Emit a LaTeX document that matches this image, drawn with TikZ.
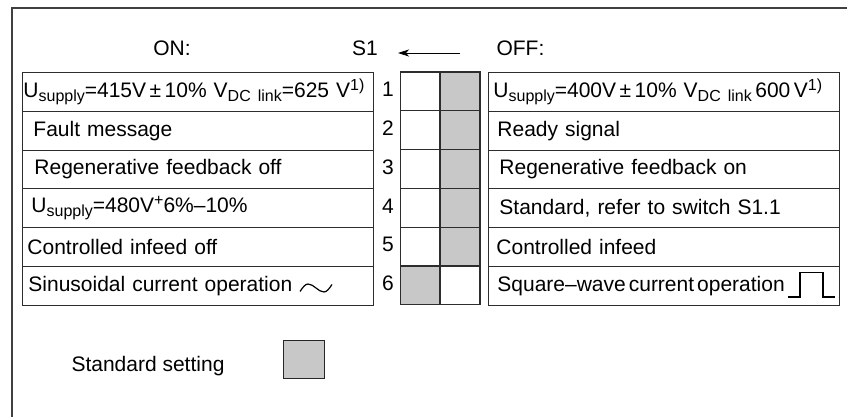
\documentclass[tikz,border=0pt]{standalone}
\usepackage{fontspec}
\setmainfont{Liberation Sans}
\usepackage{tikz}
\usetikzlibrary{arrows,arrows.meta}
\usetikzlibrary{positioning}
\definecolor{swgray}{RGB}{200,200,200}
\definecolor{linegray}{RGB}{45,45,45}

% sub- and superscripts as set in the reference
\newcommand{\lowtxt}[1]{\raisebox{-4.5pt}{\fontsize{16}{16}\selectfont #1}}
\newcommand{\hightxt}[1]{\raisebox{7pt}{\fontsize{16}{16}\selectfont #1}}

\tikzset{
	rowbox/.style={draw=linegray,line width=0.9pt,anchor=north west,minimum height=38.8pt,
		inner xsep=0pt,inner ysep=0pt,text width=351pt,align=left},
	swcell/.style={draw=linegray,line width=1.1pt,minimum height=38.8pt,inner sep=0pt}
}

\begin{document}
\begin{tikzpicture}
	[x=1pt,y=-1pt,every node/.style={font=\fontsize{21}{25}\selectfont}]
	\useasboundingbox (0,0) rectangle (847,417);
	% frame
	\draw[line width=1.4pt,black!75] (12,417) -- (12,8) -- (847,8);

	% header
	\node (on) at (172,48) {ON:};
	\node (s1) at (365,48) {S1};
	\node[anchor=west] (off) at (493,48) {OFF:};
	\coordinate (arrtail) at (460,53);
	\coordinate (arrhead) at (398,53);
	\draw[-{Stealth[length=11pt,width=7pt,inset=3pt]},line width=0.8pt] (arrtail) -- (arrhead);

	% left column: ON
	\foreach \i/\ind/\txt in {
		1/1/{U\lowtxt{supply}=415V\,±\,10\%~V\lowtxt{DC link}=625~V\hightxt{1)}},
		2/11/{Fault message},
		3/12/{Regenerative feedback off},
		4/9/{U\lowtxt{supply}=480V\hightxt{+}6\%–10\%},
		5/5/{Controlled infeed off},
		6/6/{Sinusoidal current operation}}
	\node[rowbox] (on\i) at (22,{72+(\i-1)*38.8}) {\hspace*{\ind pt}\txt};

	% right column: OFF
	\foreach \i/\ind/\txt in {
		1/5/{U\lowtxt{supply}=400V\,±\,10\%~V\lowtxt{DC link}\,600\,V\hightxt{1)}},
		2/9/{Ready signal},
		3/11/{Regenerative feedback on},
		4/11/{Standard, refer to switch S1.1},
		5/8/{Controlled infeed},
		6/9/{Square–wave\hspace{3pt}current\hspace{3pt}operation}}
	\node[rowbox] (off\i) at (488,{72+(\i-1)*38.8}) {\hspace*{\ind pt}\txt};

	% switch S1
	\foreach \i/\lf/\rf in {1/white/swgray, 2/white/swgray, 3/white/swgray,
		4/white/swgray, 5/white/swgray, 6/swgray/white}
	{
		\node[swcell,fill=\lf,minimum width=39.5pt] (swl\i) at (420.5,{72+(\i-0.5)*38.8}) {};
		\node[swcell,fill=\rf,minimum width=40pt] (swr\i) at (460,{72+(\i-0.5)*38.8}) {};
		\node (num\i) at (388,{72+(\i-0.5)*38.8-2}) {\i};
	}

	% wave symbols
	\draw[line width=1.2pt] (300,291.5) sin (308,284) cos (316,288) sin (324,292) cos (332,284.5);
	\draw[line width=1.6pt] (788,297) -- (800,297) -- (800,272.5) -- (823,272.5) -- (823,297) -- (835,297);

	% legend
	\node (stdtxt) at (148,366) {Standard setting};
	\node[draw=black!85,line width=1.8pt,fill=swgray,minimum width=41pt,minimum height=38pt,inner sep=0pt]
		(stdbox) at (304,359.5) {};
\end{tikzpicture}
\end{document}
